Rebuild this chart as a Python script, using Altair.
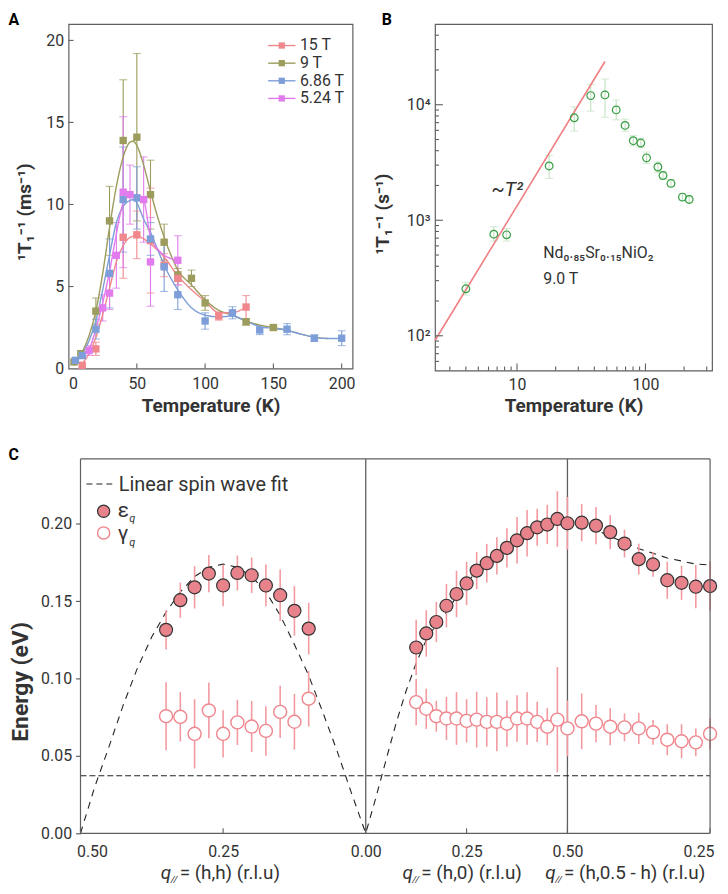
import math
import altair as alt
import pandas as pd

FONT = "Roboto"
TXT = "#333333"
FRAME = "#5f5f5f"

# ================= Panel A data =================
a_names = ["9 T", "15 T", "6.86 T", "5.24 T"]          # drawing order
a_legend = ["15 T", "9 T", "6.86 T", "5.24 T"]         # legend order
a_colors = {"15 T": "#ef878c", "9 T": "#9c9c5d", "6.86 T": "#7d9ed8", "5.24 T": "#e27bed"}

a15_T = [10, 20, 40, 50, 60, 70, 80, 110, 130]
a15_v = [0.2, 1.2, 8.0, 8.15, 7.8, 6.3, 5.5, 3.2, 3.75]
a15_e = [0.12, 0.4, 2.5, 1.45, 3.2, 0.7, 0.4, 0.25, 0.7]

a9_T = [4, 9, 20, 30, 40, 50, 60, 70, 80, 90, 100, 130, 150]
a9_v = [0.4, 0.9, 3.5, 9.0, 13.9, 14.1, 10.6, 7.7, 5.7, 5.5, 4.0, 2.85, 2.5]
a9_e = [0.1, 0.2, 0.8, 2.1, 3.7, 5.1, 2.1, 1.1, 0.4, 0.5, 0.45, 0.2, 0.15]

a686_T = [5, 10, 20, 30, 40, 50, 60, 70, 80, 100, 120, 140, 160, 180, 200]
a686_v = [0.5, 0.8, 2.4, 5.8, 10.3, 10.4, 7.9, 6.2, 4.5, 2.9, 3.4, 2.35, 2.4, 1.85, 1.85]
a686_e = [0.15, 0.2, 0.6, 2.1, 3.2, 1.9, 1.0, 1.5, 0.9, 0.5, 0.37, 0.28, 0.34, 0.2, 0.45]

a524_T = [15, 25, 30, 35, 40, 45, 55, 60, 80]
a524_v = [1.1, 3.7, 4.6, 6.9, 10.75, 10.6, 10.3, 6.5, 6.6]
a524_e = [0.3, 0.8, 1.0, 2.0, 4.6, 1.8, 2.6, 2.7, 1.5]

# guide curves
a15_fT = [10, 15, 20, 25, 30, 35, 40, 45, 50, 55, 60, 70, 80, 90, 100, 110, 120, 130]
a15_fv = [0.3, 0.9, 1.9, 3.3, 4.9, 6.5, 7.5, 8.0, 8.1, 7.9, 7.6, 6.8, 5.65, 4.8, 4.1, 3.4, 3.4, 3.75]
a9_fT = [4, 10, 15, 20, 25, 30, 35, 40, 45, 47, 50, 55, 60, 65, 70, 75, 80, 90, 100, 110, 120, 130, 140, 150, 160, 170, 180, 190]
a9_fv = [0.4, 1.0, 2.0, 3.5, 5.8, 8.6, 11.1, 12.9, 13.8, 13.85, 13.6, 12.4, 10.8, 9.3, 8.0, 6.9, 6.0, 5.1, 4.2, 3.55, 3.25, 2.9, 2.65, 2.5, 2.33, 2.1, 1.9, 1.83]
a686_fT = [4, 10, 15, 20, 25, 30, 35, 40, 45, 48, 50, 55, 60, 65, 70, 80, 90, 100, 110, 120, 130, 140, 150, 160, 170, 180, 190, 200]
a686_fv = [0.5, 0.9, 1.7, 2.9, 4.8, 6.9, 8.9, 9.9, 10.25, 10.3, 10.1, 9.1, 8.3, 7.3, 6.3, 4.8, 3.7, 3.25, 3.15, 3.2, 2.9, 2.55, 2.45, 2.33, 2.1, 1.9, 1.83, 1.83]
a524_fT = [15, 20, 25, 30, 35, 40, 45, 50, 55, 60, 65, 70, 80]
a524_fv = [1.1, 2.4, 4.0, 5.9, 8.2, 10.1, 10.6, 10.6, 10.3, 8.0, 7.3, 6.9, 6.6]

a_xticks = [0, 50, 100, 150, 200]
a_yticks = [0, 5, 10, 15, 20]

# ================= Panel B data =================
b_T = [4.0, 6.6, 8.3, 17.8, 27.9, 37.5, 48.4, 59.2, 69.4, 80.4, 92.0, 102, 125, 137, 158, 194, 219]
b_R = [255, 757, 748, 2950, 7710, 12000, 12160, 9020, 6620, 4880, 4660, 3470, 2890, 2440, 2084, 1586, 1514]
b_lo = [225, 660, 660, 2300, 5900, 8800, 7800, 7400, 5900, 4400, 4250, 3100, 2600, 2250, 1950, 1480, 1420]
b_hi = [290, 880, 850, 3640, 9600, 15000, 16700, 11000, 7500, 5400, 5100, 3900, 3200, 2650, 2250, 1700, 1620]
b_line_T = [2.3, 48.4]
b_line_R = [91, 23660]
b_xticks = [10, 100]
b_xminor = [3, 4, 5, 6, 7, 8, 9, 20, 30, 40, 50, 60, 70, 80, 90, 200, 300]
b_yticks = [100, 1000, 10000]
b_ylabels = ["10²", "10³", "10⁴"]
b_yminor = [60, 70, 80, 90, 200, 300, 400, 500, 600, 700, 800, 900,
            2000, 3000, 4000, 5000, 6000, 7000, 8000, 9000, 20000, 30000, 40000]

# ================= Panel C data =================
c_l_h = [0.35, 0.325, 0.30, 0.275, 0.25, 0.225, 0.20, 0.175, 0.15, 0.125, 0.10]
c_l_eps = [0.1315, 0.1507, 0.159, 0.1679, 0.1602, 0.1683, 0.1668, 0.1602, 0.1539, 0.1438, 0.1323]
c_l_eps_err = [0.0127, 0.0114, 0.0137, 0.012, 0.0135, 0.0113, 0.0115, 0.0135, 0.0167, 0.016, 0.0167]
c_l_gam = [0.0757, 0.0753, 0.0643, 0.0794, 0.0643, 0.0717, 0.0690, 0.0662, 0.0785, 0.0721, 0.0870]
c_l_gam_err = [0.022, 0.016, 0.0224, 0.018, 0.0153, 0.0146, 0.0165, 0.016, 0.0169, 0.018, 0.018]

c_m_h = [0.125, 0.15, 0.175, 0.2, 0.225, 0.25, 0.275, 0.3, 0.325, 0.35, 0.375, 0.4, 0.425, 0.45, 0.475, 0.5]
c_m_eps = [0.1201, 0.1292, 0.1366, 0.1471, 0.1547, 0.1615, 0.1698, 0.1746, 0.1793, 0.1845, 0.1894, 0.1940, 0.1978, 0.1996, 0.2032, 0.2004]
c_m_eps_err = [0.018, 0.015, 0.013, 0.014, 0.015, 0.014, 0.012, 0.0125, 0.012, 0.0127, 0.015, 0.015, 0.012, 0.0127, 0.018, 0.017]
c_m_gam = [0.0848, 0.0805, 0.0757, 0.0742, 0.0742, 0.0727, 0.0735, 0.0720, 0.0720, 0.0709, 0.0742, 0.0742, 0.0720, 0.0689, 0.0735, 0.0678]
c_m_gam_err = [0.015, 0.013, 0.010, 0.014, 0.017, 0.014, 0.018, 0.016, 0.019, 0.015, 0.015, 0.017, 0.013, 0.012, 0.034, 0.018]

c_r_h = [0.475, 0.45, 0.425, 0.4, 0.375, 0.35, 0.325, 0.3, 0.275, 0.25]
c_r_eps = [0.2008, 0.1989, 0.1947, 0.1873, 0.1772, 0.1738, 0.1636, 0.1619, 0.1594, 0.1598]
c_r_eps_err = [0.012, 0.012, 0.011, 0.009, 0.010, 0.008, 0.012, 0.011, 0.014, 0.016]
c_r_gam = [0.0724, 0.0709, 0.0689, 0.0685, 0.0678, 0.0653, 0.0605, 0.0595, 0.0588, 0.0643]
c_r_gam_err = [0.018, 0.012, 0.012, 0.009, 0.010, 0.008, 0.010, 0.011, 0.009, 0.010]

c_fit1_h = [0.5, 0.475, 0.45, 0.425, 0.4, 0.375, 0.35, 0.325, 0.3, 0.275, 0.25, 0.225, 0.2, 0.175, 0.15, 0.125, 0.1, 0.075, 0.05, 0.025, 0.0]
c_fit1_E = [0.000, 0.030, 0.056, 0.083, 0.107, 0.127, 0.143, 0.156, 0.166, 0.172, 0.174, 0.172, 0.166, 0.156, 0.141, 0.122, 0.102, 0.078, 0.053, 0.026, 0.000]
c_fit2_h = [0.025, 0.05, 0.075, 0.1, 0.125, 0.15, 0.175, 0.2, 0.225, 0.25, 0.275, 0.3, 0.325, 0.35, 0.375, 0.4, 0.425, 0.45, 0.475, 0.5]
c_fit2_E = [0.023, 0.047, 0.071, 0.092, 0.110, 0.125, 0.135, 0.143, 0.153, 0.162, 0.169, 0.175, 0.181, 0.186, 0.190, 0.194, 0.197, 0.199, 0.200, 0.200]
c_fit3_h = [0.475, 0.45, 0.425, 0.4, 0.375, 0.35, 0.325, 0.3, 0.275, 0.25]
c_fit3_E = [0.199, 0.196, 0.192, 0.188, 0.184, 0.181, 0.178, 0.176, 0.174, 0.1735]
c_gap_E = 0.0372

c_tick_h = [0.5, 0.25, 0.0, 0.25, 0.5, 0.25]
c_tick_seg = [1, 1, 1, 2, 2, 3]
c_tick_lab = ["0.50", "0.25", "0.00", "0.25", "0.50", "0.25"]
c_yticks = [0.0, 0.05, 0.10, 0.15, 0.20]
c_qlab_d = [0.199, 0.798, 1.152]
c_qlab_txt = ["= (h,h) (r.l.u)", "= (h,0) (r.l.u)", "= (h,0.5 - h) (r.l.u)"]

SQ2 = math.sqrt(2.0)


def path_pos(h, seg):
    if seg == 1:
        return (0.5 - h) * SQ2
    if seg == 2:
        return 0.5 * SQ2 + h
    return 0.5 * SQ2 + 0.5 + (0.5 - h) * SQ2


C_XMAX = path_pos(0.25, 3)

# ================= sizes =================
A_W, A_H = 286, 347
B_W, B_H = 279, 349
C_OFF = 12                   # panel C frame starts 12 px right of panel A frame
C_PW, C_H = 634, 377
C_W = C_OFF + C_PW
LETTER_Y = -11.5


def ax(**kw):
    base = dict(labelFont=FONT, labelColor=TXT, titleFont=FONT, titleColor=TXT,
                domain=False, grid=False, tickSize=0, labelFontSize=16,
                titleFontSize=19, titleFontWeight="bold")
    base.update(kw)
    return alt.Axis(**base)


def letter(t, x):
    return alt.Chart(pd.DataFrame({"t": [t]})).mark_text(
        align="left", baseline="top", font=FONT, fontSize=16, fontWeight="bold", color="#000").encode(
        x=alt.value(x), y=alt.value(LETTER_Y), text="t:N")

# ================= Panel A =================
series_data = {"15 T": (a15_T, a15_v, a15_e), "9 T": (a9_T, a9_v, a9_e),
               "6.86 T": (a686_T, a686_v, a686_e), "5.24 T": (a524_T, a524_v, a524_e)}
fit_data = {"15 T": (a15_fT, a15_fv), "9 T": (a9_fT, a9_fv),
            "6.86 T": (a686_fT, a686_fv), "5.24 T": (a524_fT, a524_fv)}
rows = []
for s in a_names:
    T, v, e = series_data[s]
    for t, vv, ee in zip(T, v, e):
        rows.append({"series": s, "T": t, "v": vv, "lo": vv - ee, "hi": vv + ee})
a_pts = pd.DataFrame(rows)
rows = []
for s in a_names:
    T, v = fit_data[s]
    for t, vv in zip(T, v):
        rows.append({"series": s, "T": t, "v": vv})
a_fit = pd.DataFrame(rows)

colA = alt.Color("series:N", scale=alt.Scale(domain=a_legend, range=[a_colors[n] for n in a_legend]), legend=None)
xA = alt.X("T:Q", scale=alt.Scale(domain=[0, 208], nice=False, zero=False),
           axis=ax(values=a_xticks, title="Temperature (K)", labelPadding=7, titleY=28, titleBaseline="top"))
yA = alt.Y("v:Q", scale=alt.Scale(domain=[0, 21], nice=False),
           axis=ax(values=a_yticks, title="¹T₁⁻¹ (ms⁻¹)", labelPadding=5, titleX=-38, titleY=189,
                   titleBaseline="alphabetic", titleAngle=270, titleAlign="center"))

baseA = alt.Chart(a_pts)
a_err = baseA.mark_rule(strokeWidth=1.1).encode(x=xA, y=alt.Y("lo:Q"), y2="hi:Q", color=colA)
a_cap1 = baseA.mark_tick(orient="horizontal", size=8, thickness=1.1).encode(x="T:Q", y="lo:Q", color=colA)
a_cap2 = baseA.mark_tick(orient="horizontal", size=8, thickness=1.1).encode(x="T:Q", y="hi:Q", color=colA)
a_line = alt.Chart(a_fit).mark_line(strokeWidth=1.4, interpolate="monotone").encode(x="T:Q", y=yA, color=colA, detail="series:N")
a_sq = baseA.mark_square(size=55, opacity=1).encode(x="T:Q", y="v:Q", color=colA)

legA = pd.DataFrame({"series": a_legend, "row": list(range(len(a_legend)))})
legbase = alt.Chart(legA).transform_calculate(py="21.7 + 17.75 * datum.row")
a_leg_line = legbase.mark_rule(strokeWidth=1.4).encode(x=alt.value(201), x2=alt.value(228.5),
                                                      y=alt.Y("py:Q", scale=None, axis=None), color=colA)
a_leg_sq = legbase.mark_square(size=40, opacity=1).encode(x=alt.value(214.7), y=alt.Y("py:Q", scale=None, axis=None), color=colA)
a_leg_txt = legbase.mark_text(align="left", baseline="middle", font=FONT, fontSize=16, color=TXT).encode(
    x=alt.value(233), y=alt.Y("py:Q", scale=None, axis=None), text="series:N")

a_xt = alt.Chart(pd.DataFrame({"T": a_xticks[1:]})).mark_rule(color=FRAME, strokeWidth=1.1).encode(
    x="T:Q", y=alt.value(A_H), y2=alt.value(A_H - 5))
a_yt = alt.Chart(pd.DataFrame({"v": a_yticks[1:]})).mark_rule(color=FRAME, strokeWidth=1.1).encode(
    y="v:Q", x=alt.value(0), x2=alt.value(5))

panelA = alt.layer(a_err, a_cap1, a_cap2, a_line, a_sq, a_leg_line, a_leg_sq, a_leg_txt, a_xt, a_yt,
                   letter("A", -60.4)).properties(width=A_W, height=A_H)

# ================= Panel B =================
GREEN = "#3a9e45"
b_pts = pd.DataFrame({"T": b_T, "R": b_R, "lo": b_lo, "hi": b_hi})
b_fit = pd.DataFrame({"T": b_line_T, "R": b_line_R})
ylab_expr = " : ".join(f"datum.value == {v} ? '{l}'" for v, l in zip(b_yticks, b_ylabels)) + " : ''"
xB = alt.X("T:Q", scale=alt.Scale(type="log", domain=[2.3, 330], nice=False),
           axis=ax(values=b_xticks, format="d", title="Temperature  (K)", labelPadding=6, titleY=26.5, titleBaseline="top"))
yB = alt.Y("R:Q", scale=alt.Scale(type="log", domain=[50, 50000], nice=False),
           axis=ax(values=b_yticks, labelExpr=ylab_expr, title="¹T₁⁻¹ (s⁻¹)", labelPadding=5, titleX=-47, titleY=191,
                   titleBaseline="alphabetic", titleAngle=270, titleAlign="center"))
baseB = alt.Chart(b_pts)
b_err = baseB.mark_rule(color="#bfe2c0", strokeWidth=1.1).encode(x=xB, y=alt.Y("lo:Q"), y2="hi:Q")
b_cap1 = baseB.mark_tick(orient="horizontal", size=8, thickness=1, color="#bfe2c0").encode(x="T:Q", y="lo:Q")
b_cap2 = baseB.mark_tick(orient="horizontal", size=8, thickness=1, color="#bfe2c0").encode(x="T:Q", y="hi:Q")
b_line = alt.Chart(b_fit).mark_line(color="#ee7f82", strokeWidth=1.6).encode(x="T:Q", y=yB)
b_pt = baseB.mark_point(shape="circle", filled=False, size=60, strokeWidth=1.2, color=GREEN, opacity=1).encode(x="T:Q", y="R:Q")
b_ann = pd.DataFrame({"T": [8.4], "R": [1830], "t": ["~T²"]})
b_t2 = alt.Chart(b_ann).mark_text(font=FONT, fontSize=20, fontStyle="italic", color=TXT, align="center", baseline="middle").encode(
    x="T:Q", y="R:Q", text="t:N")
b_ann2 = pd.DataFrame({"T": [16.0, 16.0], "R": [520, 310], "t": ["Nd₀.₈₅Sr₀.₁₅NiO₂", "9.0 T"]})
b_t3 = alt.Chart(b_ann2).mark_text(font=FONT, fontSize=16, color=TXT, align="left", baseline="middle").encode(
    x="T:Q", y="R:Q", text="t:N")
b_ymaj = alt.Chart(pd.DataFrame({"R": b_yticks})).mark_rule(color=FRAME, strokeWidth=1.1).encode(
    y="R:Q", x=alt.value(0), x2=alt.value(8))
b_ymin = alt.Chart(pd.DataFrame({"R": b_yminor})).mark_rule(color=FRAME, strokeWidth=1.1).encode(
    y="R:Q", x=alt.value(0), x2=alt.value(4))
b_xmaj = alt.Chart(pd.DataFrame({"T": b_xticks})).mark_rule(color=FRAME, strokeWidth=1.1).encode(
    x="T:Q", y=alt.value(B_H), y2=alt.value(B_H - 7))
b_xmin = alt.Chart(pd.DataFrame({"T": b_xminor})).mark_rule(color=FRAME, strokeWidth=1.1).encode(
    x="T:Q", y=alt.value(B_H), y2=alt.value(B_H - 4))
panelB = alt.layer(b_err, b_cap1, b_cap2, b_line, b_pt, b_t2, b_t3, b_ymaj, b_ymin, b_xmaj, b_xmin,
                   letter("B", -53.6)).properties(width=B_W, height=B_H)

# ================= Panel C =================
rows = []
for hs, eps, ee, gam, ge, seg in [(c_l_h, c_l_eps, c_l_eps_err, c_l_gam, c_l_gam_err, 1),
                                  (c_m_h, c_m_eps, c_m_eps_err, c_m_gam, c_m_gam_err, 2),
                                  (c_r_h, c_r_eps, c_r_eps_err, c_r_gam, c_r_gam_err, 3)]:
    for h, a, b, c, d in zip(hs, eps, ee, gam, ge):
        rows.append({"d": path_pos(h, seg), "eps": a, "eps_lo": a - b, "eps_hi": a + b,
                     "gam": c, "gam_lo": c - d, "gam_hi": c + d})
c_pts = pd.DataFrame(rows)
rows = []
for hs, Es, seg in [(c_fit1_h, c_fit1_E, 1), (c_fit2_h, c_fit2_E, 2), (c_fit3_h, c_fit3_E, 3)]:
    for h, E in zip(hs, Es):
        rows.append({"d": path_pos(h, seg), "E": E})
c_fit = pd.DataFrame(rows).sort_values("d")

c_tick_pos = [path_pos(h, s) for h, s in zip(c_tick_h, c_tick_seg)]
xlab_expr = " : ".join(f"abs(datum.value - {p:.6f}) < 0.01 ? '{l}'" for p, l in zip(c_tick_pos, c_tick_lab)) + " : ''"

PINK = "#f0868d"
PINK_BAR = "#f39aa0"
xC = alt.X("d:Q", scale=alt.Scale(domain=[0, C_XMAX], range=[C_OFF, C_W], nice=False, zero=False),
           axis=ax(values=c_tick_pos, labelExpr=xlab_expr, labelFlush=True, labelFlushOffset=4,
                   labelPadding=10, title=None, labelOverlap=False))
yC = alt.Y("E:Q", scale=alt.Scale(domain=[0, 0.242], nice=False),
           axis=ax(values=c_yticks, format=".2f", tickSize=5, tickColor=FRAME, tickWidth=1.2, labelPadding=4,
                   offset=-C_OFF, title="Energy (eV)", titleFontSize=23, titleX=-53, titleY=224,
                   titleBaseline="alphabetic", titleAngle=270, titleAlign="center"))

one = pd.DataFrame({"k": [0]})
frame_kw = dict(color=FRAME, strokeWidth=1.2)
c_fr_l = alt.Chart(one).mark_rule(**frame_kw).encode(x=alt.value(C_OFF), y=alt.value(0), y2=alt.value(C_H))
c_fr_r = alt.Chart(one).mark_rule(**frame_kw).encode(x=alt.value(C_W), y=alt.value(0), y2=alt.value(C_H))
c_fr_t = alt.Chart(one).mark_rule(**frame_kw).encode(x=alt.value(C_OFF), x2=alt.value(C_W), y=alt.value(0))
c_fr_b = alt.Chart(one).mark_rule(**frame_kw).encode(x=alt.value(C_OFF), x2=alt.value(C_W), y=alt.value(C_H))

c_bound = alt.Chart(pd.DataFrame({"d": [path_pos(0.0, 1), path_pos(0.5, 2)]})).mark_rule(
    color=FRAME, strokeWidth=1.3).encode(x=xC, y=alt.value(0), y2=alt.value(C_H))
c_hline = alt.Chart(pd.DataFrame({"E": [c_gap_E]})).mark_rule(color="#222", strokeWidth=1.1, strokeDash=[6, 3]).encode(
    y=yC, x=alt.value(C_OFF), x2=alt.value(C_W))
c_fitl = alt.Chart(c_fit).mark_line(color="#222", strokeWidth=1.1, strokeDash=[7, 6]).encode(x="d:Q", y="E:Q")
baseC = alt.Chart(c_pts)
c_gerr = baseC.mark_rule(color=PINK_BAR, strokeWidth=1.6).encode(x="d:Q", y=alt.Y("gam_lo:Q"), y2="gam_hi:Q")
c_eerr = baseC.mark_rule(color=PINK_BAR, strokeWidth=1.6).encode(x="d:Q", y=alt.Y("eps_lo:Q"), y2="eps_hi:Q")
c_gam = baseC.mark_point(shape="circle", filled=True, fill="white", stroke=PINK, strokeWidth=1.4, size=172, opacity=1).encode(
    x="d:Q", y=alt.Y("gam:Q"))
c_eps = baseC.mark_point(shape="circle", filled=True, fill="#e9838b", stroke="#333", strokeWidth=1.2, size=172, opacity=1).encode(
    x="d:Q", y=alt.Y("eps:Q"))
c_xt = alt.Chart(pd.DataFrame({"d": c_tick_pos})).mark_rule(color=FRAME, strokeWidth=1.1).encode(
    x="d:Q", y=alt.value(C_H), y2=alt.value(C_H - 5))

# legend (pixel placed)
c_leg_dash = alt.Chart(one).mark_rule(color="#222", strokeWidth=1.1, strokeDash=[6, 4]).encode(
    x=alt.value(C_OFF + 6), x2=alt.value(C_OFF + 34), y=alt.value(25.3))
c_leg_t1 = alt.Chart(pd.DataFrame({"t": ["Linear spin wave fit"]})).mark_text(
    align="left", baseline="middle", font=FONT, fontSize=20, color=TXT).encode(x=alt.value(C_OFF + 38.5), y=alt.value(26.5), text="t:N")
c_leg_e = alt.Chart(one).mark_point(shape="circle", filled=True, fill="#e9838b", stroke="#333",
                                    strokeWidth=1.2, size=150, opacity=1).encode(x=alt.value(C_OFF + 23.3), y=alt.value(52.7))
c_leg_g = alt.Chart(one).mark_point(shape="circle", filled=True, fill="white", stroke=PINK,
                                    strokeWidth=1.4, size=150, opacity=1).encode(x=alt.value(C_OFF + 23.3), y=alt.value(74.5))
c_leg_sym = alt.Chart(pd.DataFrame({"t": ["ε", "γ"], "py": [52.5, 76]})).mark_text(
    align="left", baseline="middle", font=FONT, fontSize=21, color=TXT).encode(
    x=alt.value(C_OFF + 37.5), y=alt.Y("py:Q", scale=None, axis=None), text="t:N")
c_leg_q = alt.Chart(pd.DataFrame({"t": ["q", "q"], "py": [61, 85]})).mark_text(
    align="left", baseline="middle", font=FONT, fontSize=11, fontStyle="italic", color=TXT).encode(
    x=alt.value(C_OFF + 49), y=alt.Y("py:Q", scale=None, axis=None), text="t:N")

# axis titles under the x axis
qdf = pd.DataFrame({"d": c_qlab_d, "rest": c_qlab_txt, "q": ["q"] * 3, "s": ["//"] * 3})
c_q1 = alt.Chart(qdf).mark_text(align="left", baseline="alphabetic", font=FONT, fontSize=19, fontStyle="italic",
                                color=TXT).encode(x="d:Q", y=alt.value(C_H + 46.5), text="q:N")
c_q2 = alt.Chart(qdf).mark_text(align="left", baseline="alphabetic", font=FONT, fontSize=10, fontStyle="italic",
                                color=TXT, dx=10).encode(x="d:Q", y=alt.value(C_H + 50.5), text="s:N")
c_q3 = alt.Chart(qdf).mark_text(align="left", baseline="alphabetic", font=FONT, fontSize=19,
                                color=TXT, dx=19).encode(x="d:Q", y=alt.value(C_H + 46.5), text="rest:N")

panelC = alt.layer(c_bound, c_hline, c_fitl.encode(y=yC), c_gerr, c_eerr, c_gam, c_eps, c_xt,
                   c_fr_l, c_fr_r, c_fr_t, c_fr_b,
                   c_leg_dash, c_leg_t1, c_leg_e, c_leg_g, c_leg_sym, c_leg_q, c_q1, c_q2, c_q3,
                   letter("C", -60.4)
                   ).properties(width=C_W, height=C_H, view=alt.ViewBackground(stroke="transparent"))

top = alt.hconcat(panelA, panelB, spacing=16)
chart = alt.vconcat(top, panelC, spacing=29).properties(padding=0, background="white").configure_view(
    stroke=FRAME, strokeWidth=1.2).configure_axis(labelFont=FONT, titleFont=FONT)

chart.save("out.html", embed_options={"renderer": "svg", "actions": False})
